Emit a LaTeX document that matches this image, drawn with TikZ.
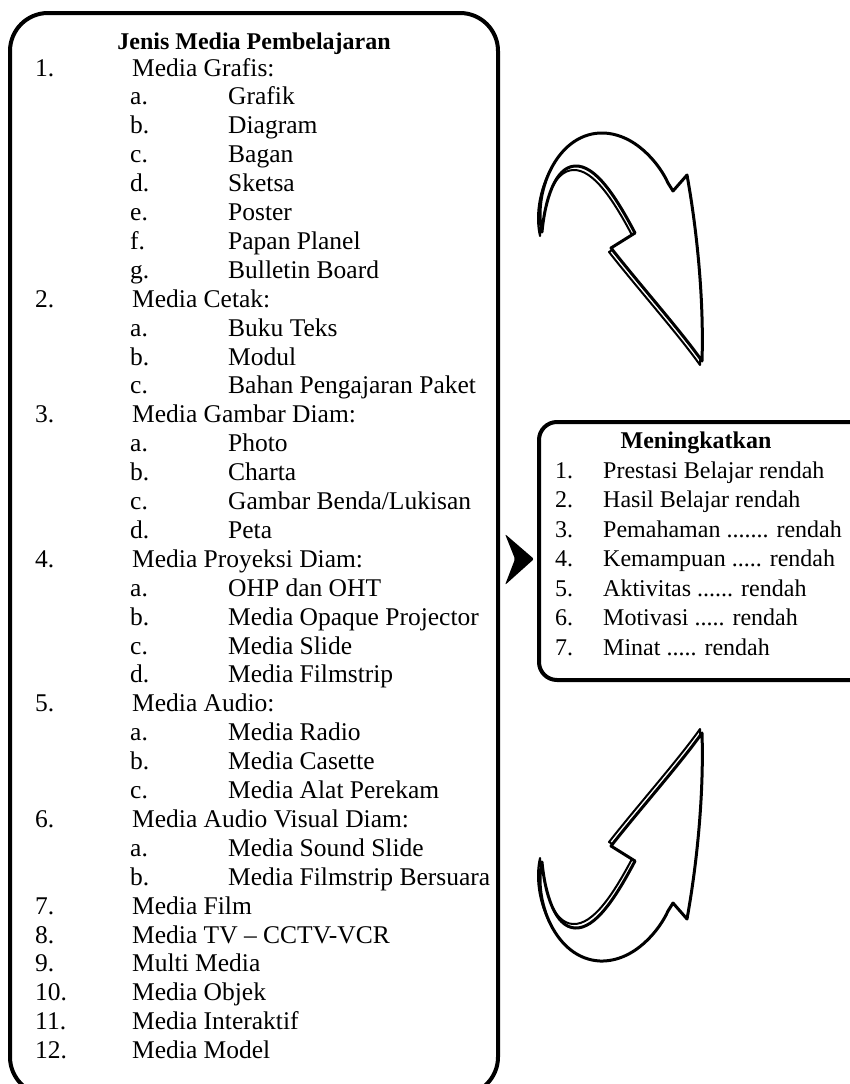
\documentclass[tikz,border=0pt]{standalone}
\usepackage{fontspec}
\setmainfont{Liberation Serif}

\newcommand{\arrowoutline}{(542,-315) .. controls (533,-352) and (555,-412) .. (600,-414)
  .. controls (635,-415) and (660,-382) .. (668,-364) -- (673,-356) -- (687,-372)
  .. controls (697,-317) and (704,-247) .. (702,-186)
  .. controls (680,-217) and (640,-262) .. (611,-299) -- (635,-314)
  .. controls (615,-352) and (595,-382) .. (575,-381)
  .. controls (555,-380) and (545,-347) .. (542,-315) -- cycle}

\tikzset{
  panel/.style={line width=4pt},
  entry/.style={anchor=base west, inner sep=0pt, font=\fontsize{25.5}{29}\selectfont},
  item/.style={anchor=base west, inner sep=0pt, font=\fontsize{24}{29}\selectfont},
  head/.style={anchor=base, inner sep=0pt, font=\fontsize{24}{29}\selectfont\bfseries},
  arrowback/.style={fill=white, line width=2pt, line join=round},
  arrowfront/.style={fill=white, line width=3pt, line join=round},
  bentarrow/.pic={
    \draw[arrowback, shift={(-2,4)}] \arrowoutline;
    \draw[arrowfront] \arrowoutline;
  }
}

\begin{document}
\begin{tikzpicture}[x=1pt, y=-1pt]
	\useasboundingbox (0,0) rectangle (850,1084);
	\clip (0,0) rectangle (850,1084);
	
	\draw[panel, rounded corners=38pt] (10,13) rectangle (498,1095);
	\draw[panel, rounded corners=18pt] (539,422) rectangle (880,680);
	
	\begin{scope}[shift={(0,76)}, y=-28.9pt]
		\node[head] (l0) at (254,-0.9) {Jenis Media Pembelajaran};
		\node[entry] (l1) at (35,0) {\makebox[97pt][l]{1.}Media Grafis:};
		\node[entry] (l2) at (130,1) {\makebox[98pt][l]{a.}Grafik};
		\node[entry] (l3) at (130,2) {\makebox[98pt][l]{b.}Diagram};
		\node[entry] (l4) at (130,3) {\makebox[98pt][l]{c.}Bagan};
		\node[entry] (l5) at (130,4) {\makebox[98pt][l]{d.}Sketsa};
		\node[entry] (l6) at (130,5) {\makebox[98pt][l]{e.}Poster};
		\node[entry] (l7) at (130,6) {\makebox[98pt][l]{f.}Papan Planel};
		\node[entry] (l8) at (130,7) {\makebox[98pt][l]{g.}Bulletin Board};
		\node[entry] (l9) at (35,8) {\makebox[97pt][l]{2.}Media Cetak:};
		\node[entry] (l10) at (130,9) {\makebox[98pt][l]{a.}Buku Teks};
		\node[entry] (l11) at (130,10) {\makebox[98pt][l]{b.}Modul};
		\node[entry] (l12) at (130,11) {\makebox[98pt][l]{c.}Bahan Pengajaran Paket};
		\node[entry] (l13) at (35,12) {\makebox[97pt][l]{3.}Media Gambar Diam:};
		\node[entry] (l14) at (130,13) {\makebox[98pt][l]{a.}Photo};
		\node[entry] (l15) at (130,14) {\makebox[98pt][l]{b.}Charta};
		\node[entry] (l16) at (130,15) {\makebox[98pt][l]{c.}Gambar Benda/Lukisan};
		\node[entry] (l17) at (130,16) {\makebox[98pt][l]{d.}Peta};
		\node[entry] (l18) at (35,17) {\makebox[97pt][l]{4.}Media Proyeksi Diam:};
		\node[entry] (l19) at (130,18) {\makebox[98pt][l]{a.}OHP dan OHT};
		\node[entry] (l20) at (130,19) {\makebox[98pt][l]{b.}Media Opaque Projector};
		\node[entry] (l21) at (130,20) {\makebox[98pt][l]{c.}Media Slide};
		\node[entry] (l22) at (130,21) {\makebox[98pt][l]{d.}Media Filmstrip};
		\node[entry] (l23) at (35,22) {\makebox[97pt][l]{5.}Media Audio:};
		\node[entry] (l24) at (130,23) {\makebox[98pt][l]{a.}Media Radio};
		\node[entry] (l25) at (130,24) {\makebox[98pt][l]{b.}Media Casette};
		\node[entry] (l26) at (130,25) {\makebox[98pt][l]{c.}Media Alat Perekam};
		\node[entry] (l27) at (35,26) {\makebox[97pt][l]{6.}Media Audio Visual Diam:};
		\node[entry] (l28) at (130,27) {\makebox[98pt][l]{a.}Media Sound Slide};
		\node[entry] (l29) at (130,28) {\makebox[98pt][l]{b.}Media Filmstrip Bersuara};
		\node[entry] (l30) at (35,29) {\makebox[97pt][l]{7.}Media Film};
		\node[entry] (l31) at (35,30) {\makebox[97pt][l]{8.}Media TV – CCTV-VCR};
		\node[entry] (l32) at (35,31) {\makebox[97pt][l]{9.}Multi Media};
		\node[entry] (l33) at (35,32) {\makebox[97pt][l]{10.}Media Objek};
		\node[entry] (l34) at (35,33) {\makebox[97pt][l]{11.}Media Interaktif};
		\node[entry] (l35) at (35,34) {\makebox[97pt][l]{12.}Media Model};
	\end{scope}
	
	\begin{scope}[shift={(0,478)}, y=-29.5pt]
		\node[head] (r0) at (696,-1) {Meningkatkan};
		\node[item] (r1) at (555,0) {\makebox[48pt][l]{1.}Prestasi Belajar rendah};
		\node[item] (r2) at (555,1) {\makebox[48pt][l]{2.}Hasil Belajar rendah};
		\node[item] (r3) at (555,2) {\makebox[48pt][l]{3.}Pemahaman ....... rendah};
		\node[item] (r4) at (555,3) {\makebox[48pt][l]{4.}Kemampuan ..... rendah};
		\node[item] (r5) at (555,4) {\makebox[48pt][l]{5.}Aktivitas ...... rendah};
		\node[item] (r6) at (555,5) {\makebox[48pt][l]{6.}Motivasi ..... rendah};
		\node[item] (r7) at (555,6) {\makebox[48pt][l]{7.}Minat ..... rendah};
	\end{scope}
	
	\fill[rounded corners=2pt] (505,534) -- (534,559) -- (505,585) -- (515,559) -- cycle;
	
	\pic (up) at (0,547) {bentarrow};
	\pic[yscale=-1] (down) at (0,547) {bentarrow};
\end{tikzpicture}
\end{document}
